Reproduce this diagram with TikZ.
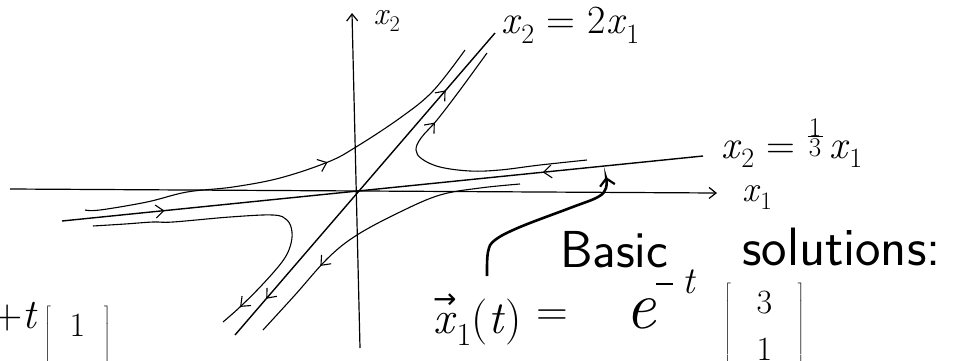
\documentclass[tikz,border=0pt]{standalone}
\usepackage{fontspec}
\newfontfamily\symf{DejaVu Sans}
\usetikzlibrary{arrows.meta,decorations.markings}
\newcommand{\myvecx}{\begin{tabular}[b]{@{}c@{}}{\fontsize{28}{28}\selectfont\symf →}\\[-0.6em]\textit{x}\end{tabular}}
\newcommand{\myfrac}[2]{\raisebox{2pt}{\fontsize{27}{27}\selectfont\shortstack{#1\\[-3pt]\rule{0.55em}{1pt}\\[-2pt]#2}}}
\tikzset{
  hb/.tip={Straight Barb[length=8pt,width=13pt,line width=1.1pt]},
  axisline/.style={line width=1.2pt,-{Straight Barb[length=7pt,width=11pt]}},
  eigen/.style={line width=1.4pt},
  traj/.style={line width=1.1pt},
  lbl/.style={inner sep=0pt,font=\fontsize{40}{46}\selectfont},
  hand/.style={inner sep=0pt,anchor=base west},
}
\begin{document}
\begin{tikzpicture}[x=1pt,y=-1pt]
\useasboundingbox (0,0) rectangle (978,360);
\clip (0,0) rectangle (978,360);
% axes
\coordinate (x1s) at (10,189);
\coordinate (x1e) at (717,193);
\coordinate (x2s) at (360,348);
\coordinate (x2e) at (352,13);
\draw[axisline] (x1s) -- (x1e);
\draw[axisline] (x2s) -- (x2e);
% eigen lines
\coordinate (ua) at (235,335);
\coordinate (ub) at (495,33);
\coordinate (sa) at (62,221);
\coordinate (sb) at (703,156);
\draw[eigen,postaction={decorate},decoration={markings,
   mark=at position 0.81 with {\arrow{hb}},
   mark=at position 0.12 with {\arrowreversed{hb}}}] (ua) -- (ub);
\draw[eigen,postaction={decorate},decoration={markings,
   mark=at position 0.16 with {\arrow{hb}},
   mark=at position 0.75 with {\arrowreversed{hb}}}] (sa) -- (sb);
% trajectories
\draw[traj,postaction={decorate},decoration={markings,mark=at position 0.58 with {\arrow{hb}}}]
  plot[smooth,tension=0.6] coordinates {(85,210) (100,210) (147,202) (187,192) (233,187) (280,178) (328,162) (356,147) (400,118) (433,91) (465,50)};
\draw[traj,postaction={decorate},decoration={markings,mark=at position 0.71 with {\arrow{hb}}}]
  plot[smooth,tension=0.6] coordinates {(587,160) (540,165) (500,170) (470,171) (440,167) (422,159) (416,150) (421,138) (437,120) (460,90) (487,53)};
\draw[traj,postaction={decorate},decoration={markings,mark=at position 0.72 with {\arrow{hb}}}]
  plot[smooth,tension=0.6] coordinates {(520,184) (480,188) (440,195) (400,212) (357,235) (328,258) (295,295) (263,330)};
\draw[traj,postaction={decorate},decoration={markings,mark=at position 0.93 with {\arrow{hb}}}]
  plot[smooth,tension=0.6] coordinates {(93,226) (125,224) (153,222) (173,222) (230,217) (273,215) (287,220) (292,232) (290,247) (282,262) (262,285) (240,307) (223,322)};
% pointer arrow
\draw[line width=2.6pt,-{Straight Barb[length=7pt,width=15pt,line width=2.2pt]}]
  plot[smooth,tension=0.6] coordinates {(487,276) (488,252) (495,240) (520,227) (570,208) (598,197) (606,188) (606,177)};
% labels
\node[lbl,font=\fontsize{32}{36}\selectfont] (lx2) at (387,21) {\textit{x}\textsubscript{2}};
\node[lbl,anchor=west] (leq2) at (501,25) {\textit{x}\textsubscript{2} = 2\textit{x}\textsubscript{1}};
\node[lbl,anchor=base west] (leq3) at (721,158) {\textit{x}\textsubscript{2} = \myfrac{1}{3}\,\textit{x}\textsubscript{1}};
\node[lbl,font=\fontsize{36}{40}\selectfont,anchor=west] (lx1) at (742,198) {\textit{x}\textsubscript{1}};
\node[hand,font=\sffamily\fontsize{52}{60}\selectfont] (basic) at (560,267) {Basic};
\node[hand,font=\sffamily\fontsize{54}{60}\selectfont] (solns) at (742,265) {solutions:};
\node[hand,font=\fontsize{46}{52}\selectfont] (xlhs) at (433,333) {\myvecx\textsubscript{1}(\textit{t})};
\node[inner sep=0pt,font=\fontsize{44}{50}\selectfont] (eqsign) at (552,318) {=};
\node[inner sep=0pt,anchor=base,font=\fontsize{68}{70}\selectfont] (ebase) at (641,328) {\textit{e}};
\node[hand,font=\fontsize{38}{44}\selectfont] (eexp) at (656,293) {\raisebox{8pt}{\rule{17pt}{1.8pt}}\hspace{9pt}\textit{t}};
\node[inner sep=0pt,anchor=north west,font=\fontsize{34}{38}\selectfont] (mat3) at (724,280) {\renewcommand{\arraystretch}{1.25}$\left[\;\;\;\begin{array}{c}\mbox{3}\\ \mbox{1}\end{array}\;\;\;\right]$};
\node[inner sep=0pt,anchor=base east,font=\fontsize{42}{48}\selectfont] (pt) at (38,328) {+\textit{t}};
\node[inner sep=0pt,anchor=north west,font=\fontsize{34}{38}\selectfont] (mat1) at (44,303) {\renewcommand{\arraystretch}{1.25}$\left[\;\;\begin{array}{c}\mbox{1}\\ \mbox{\phantom{1}}\end{array}\;\;\right]$};
\end{tikzpicture}
\end{document}
